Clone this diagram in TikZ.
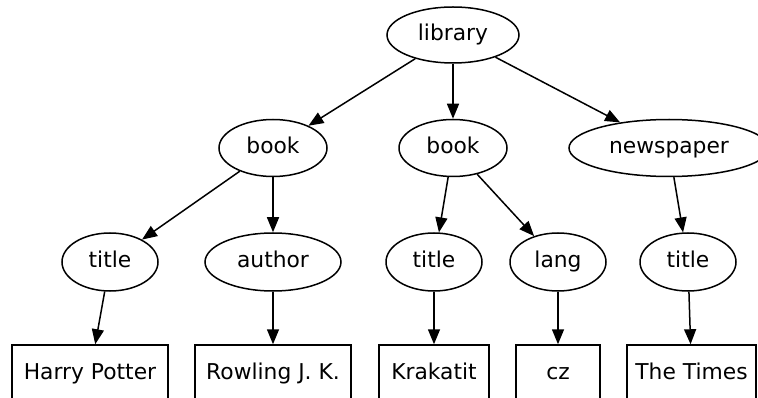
\documentclass[tikz,border=0pt]{standalone}
\usepackage{fontspec}
\setmainfont{DejaVu Sans}
\usetikzlibrary{shapes.geometric,arrows.meta}
\begin{document}
\begin{tikzpicture}[x=1pt,y=-1pt,
  every node/.style={font=\fontsize{21.8}{26}\selectfont, inner sep=0pt, line width=1.5pt,
    text height=16pt, text depth=5pt},
  elem/.style={draw, ellipse},
  leaf/.style={draw, rectangle, minimum height=57pt},
  edge/.style={-{Triangle[length=15pt,width=12pt]}, line width=1.5pt}]
\useasboundingbox (0,0) rectangle (758,398);
% element nodes
\node[elem, minimum width=132pt, minimum height=56pt] (lib) at (453,35) {library};
\node[elem, minimum width=108pt, minimum height=57pt] (b1) at (273,148) {book};
\node[elem, minimum width=108pt, minimum height=57pt] (b2) at (453,148) {book};
\node[elem, minimum width=200pt, minimum height=57pt] (np) at (669,148) {newspaper};
\node[elem, minimum width=96pt, minimum height=58pt] (t1) at (110,262) {title};
\node[elem, minimum width=136pt, minimum height=58pt] (au) at (273,262) {author};
\node[elem, minimum width=96pt, minimum height=58pt] (t2) at (434,262) {title};
\node[elem, minimum width=96pt, minimum height=58pt] (lg) at (558,262) {lang};
\node[elem, minimum width=96pt, minimum height=58pt] (t3) at (688,262) {title};
% text leaves
\node[leaf, minimum width=156pt] (hp) at (90,373.5) {Harry Potter};
\node[leaf, minimum width=156pt] (rw) at (273,373.5) {Rowling J. K.};
\node[leaf, minimum width=110pt] (kr) at (434,373.5) {Krakatit};
\node[leaf, minimum width=84pt] (cz) at (558,373.5) {cz};
\node[leaf, minimum width=129pt] (tt) at (691.5,373.5) {The Times};
% edges
\draw[edge] (lib) -- (b1);
\draw[edge] (lib) -- (b2);
\draw[edge] (lib) -- (np);
\draw[edge] (b1) -- (t1);
\draw[edge] (b1) -- (au);
\draw[edge] (b2) -- (t2);
\draw[edge] (b2) -- (lg);
\draw[edge] (np) -- (t3);
\draw[edge] (t1) -- (hp);
\draw[edge] (au) -- (rw);
\draw[edge] (t2) -- (kr);
\draw[edge] (lg) -- (cz);
\draw[edge] (t3) -- (tt);
\end{tikzpicture}
\end{document}
